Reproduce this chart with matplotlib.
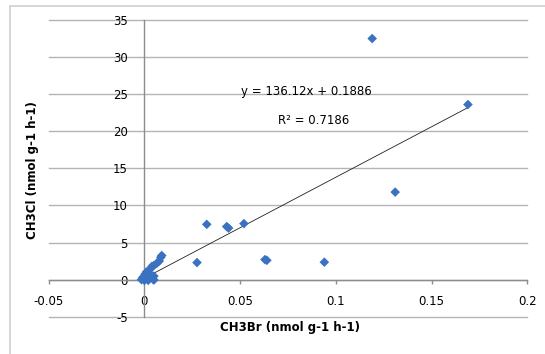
import numpy as np
import matplotlib.pyplot as plt
from matplotlib.patches import Rectangle

# CH3Br vs CH3Cl (nmol g-1 h-1)
ch3br = [0.119, 0.169, 0.131, 0.094, 0.063, 0.064, 0.0326, 0.043, 0.044, 0.052, 0.0275,
         0.0091, 0.0086, 0.0078, 0.0065, 0.005, 0.004, 0.0026, 0.0012, 0.0004, -0.0008,
         -0.0015, 0.0, 0.0047, 0.005, 0.004, 0.003, 0.002, 0.005, 0.001, 0.0025]
ch3cl = [32.5, 23.6, 11.8, 2.35, 2.7, 2.6, 7.45, 7.15, 6.95, 7.55, 2.3,
         3.25, 3.0, 2.5, 2.2, 1.9, 1.8, 1.3, 1.05, 0.75, 0.3,
         0.0, -0.1, 0.0, 0.47, 0.3, 0.6, -0.1, -0.05, 0.4, 0.9]

slope = 136.12
intercept = 0.1886
r2 = 0.7186

xticks = [-0.05, 0, 0.05, 0.1, 0.15, 0.2]
xticklabels = ["-0.05", "0", "0.05", "0.1", "0.15", "0.2"]
yticks = [-5, 0, 5, 10, 15, 20, 25, 30, 35]

W, H = 545, 354
fig = plt.figure(figsize=(W / 100, H / 100), dpi=100)
# chart frame (only its left and top edges fall inside the picture)
fig.patches.append(Rectangle((10 / W, -0.1), 1.2, 1.1 - 6 / H, transform=fig.transFigure,
                             fill=False, edgecolor="#d0d0d0", linewidth=1.2))

ax = fig.add_axes([48.6 / W, 1 - 316.7 / H, (527.3 - 48.6) / W, (316.7 - 20) / H])
ax.set_xlim(-0.05, 0.2)
ax.set_ylim(-5, 35)

for s in ["top", "right"]:
    ax.spines[s].set_visible(False)
ax.spines["left"].set_position(("data", 0))
ax.spines["bottom"].set_position(("data", 0))
for s in ["left", "bottom"]:
    ax.spines[s].set_color("#8c8c8c")
    ax.spines[s].set_linewidth(1.0)

ax.set_yticks(yticks)
ax.set_yticklabels([str(v) for v in yticks])
ax.set_xticks(xticks)
ax.set_xticklabels(xticklabels)
ax.tick_params(axis="y", length=0, pad=12, labelsize=8.5)
ax.tick_params(axis="x", length=3, width=1, color="#8c8c8c", pad=8, labelsize=8.5)
ax.yaxis.grid(True, color="#b4b4b4", linewidth=1.0)
for gl in ax.get_ygridlines():
    gl.set_clip_on(False)
ax.set_axisbelow(True)

xs = np.array([min(ch3br), max(ch3br)])
ax.plot(xs, slope * xs + intercept, color="#202020", linewidth=0.6, zorder=3)
ax.scatter(ch3br, ch3cl, marker="D", s=24, color="#3b71c1", edgecolors="none", zorder=4)

ax.text(0.0504, 25.3, f"y = {slope}x + {intercept}", fontsize=8.5, va="center")
ax.text(0.0697, 21.4, f"R\u00b2 = {r2}", fontsize=8.5, va="center")

fig.text(290 / W, 1 - 327 / H, "CH3Br (nmol g-1 h-1)", ha="center", va="center",
         fontsize=8.5, fontweight="bold")
fig.text(33 / W, 1 - 170 / H, "CH3Cl (nmol g-1 h-1)", ha="center", va="center",
         rotation=90, fontsize=8.5, fontweight="bold")

fig.savefig("out.png", dpi=100)
